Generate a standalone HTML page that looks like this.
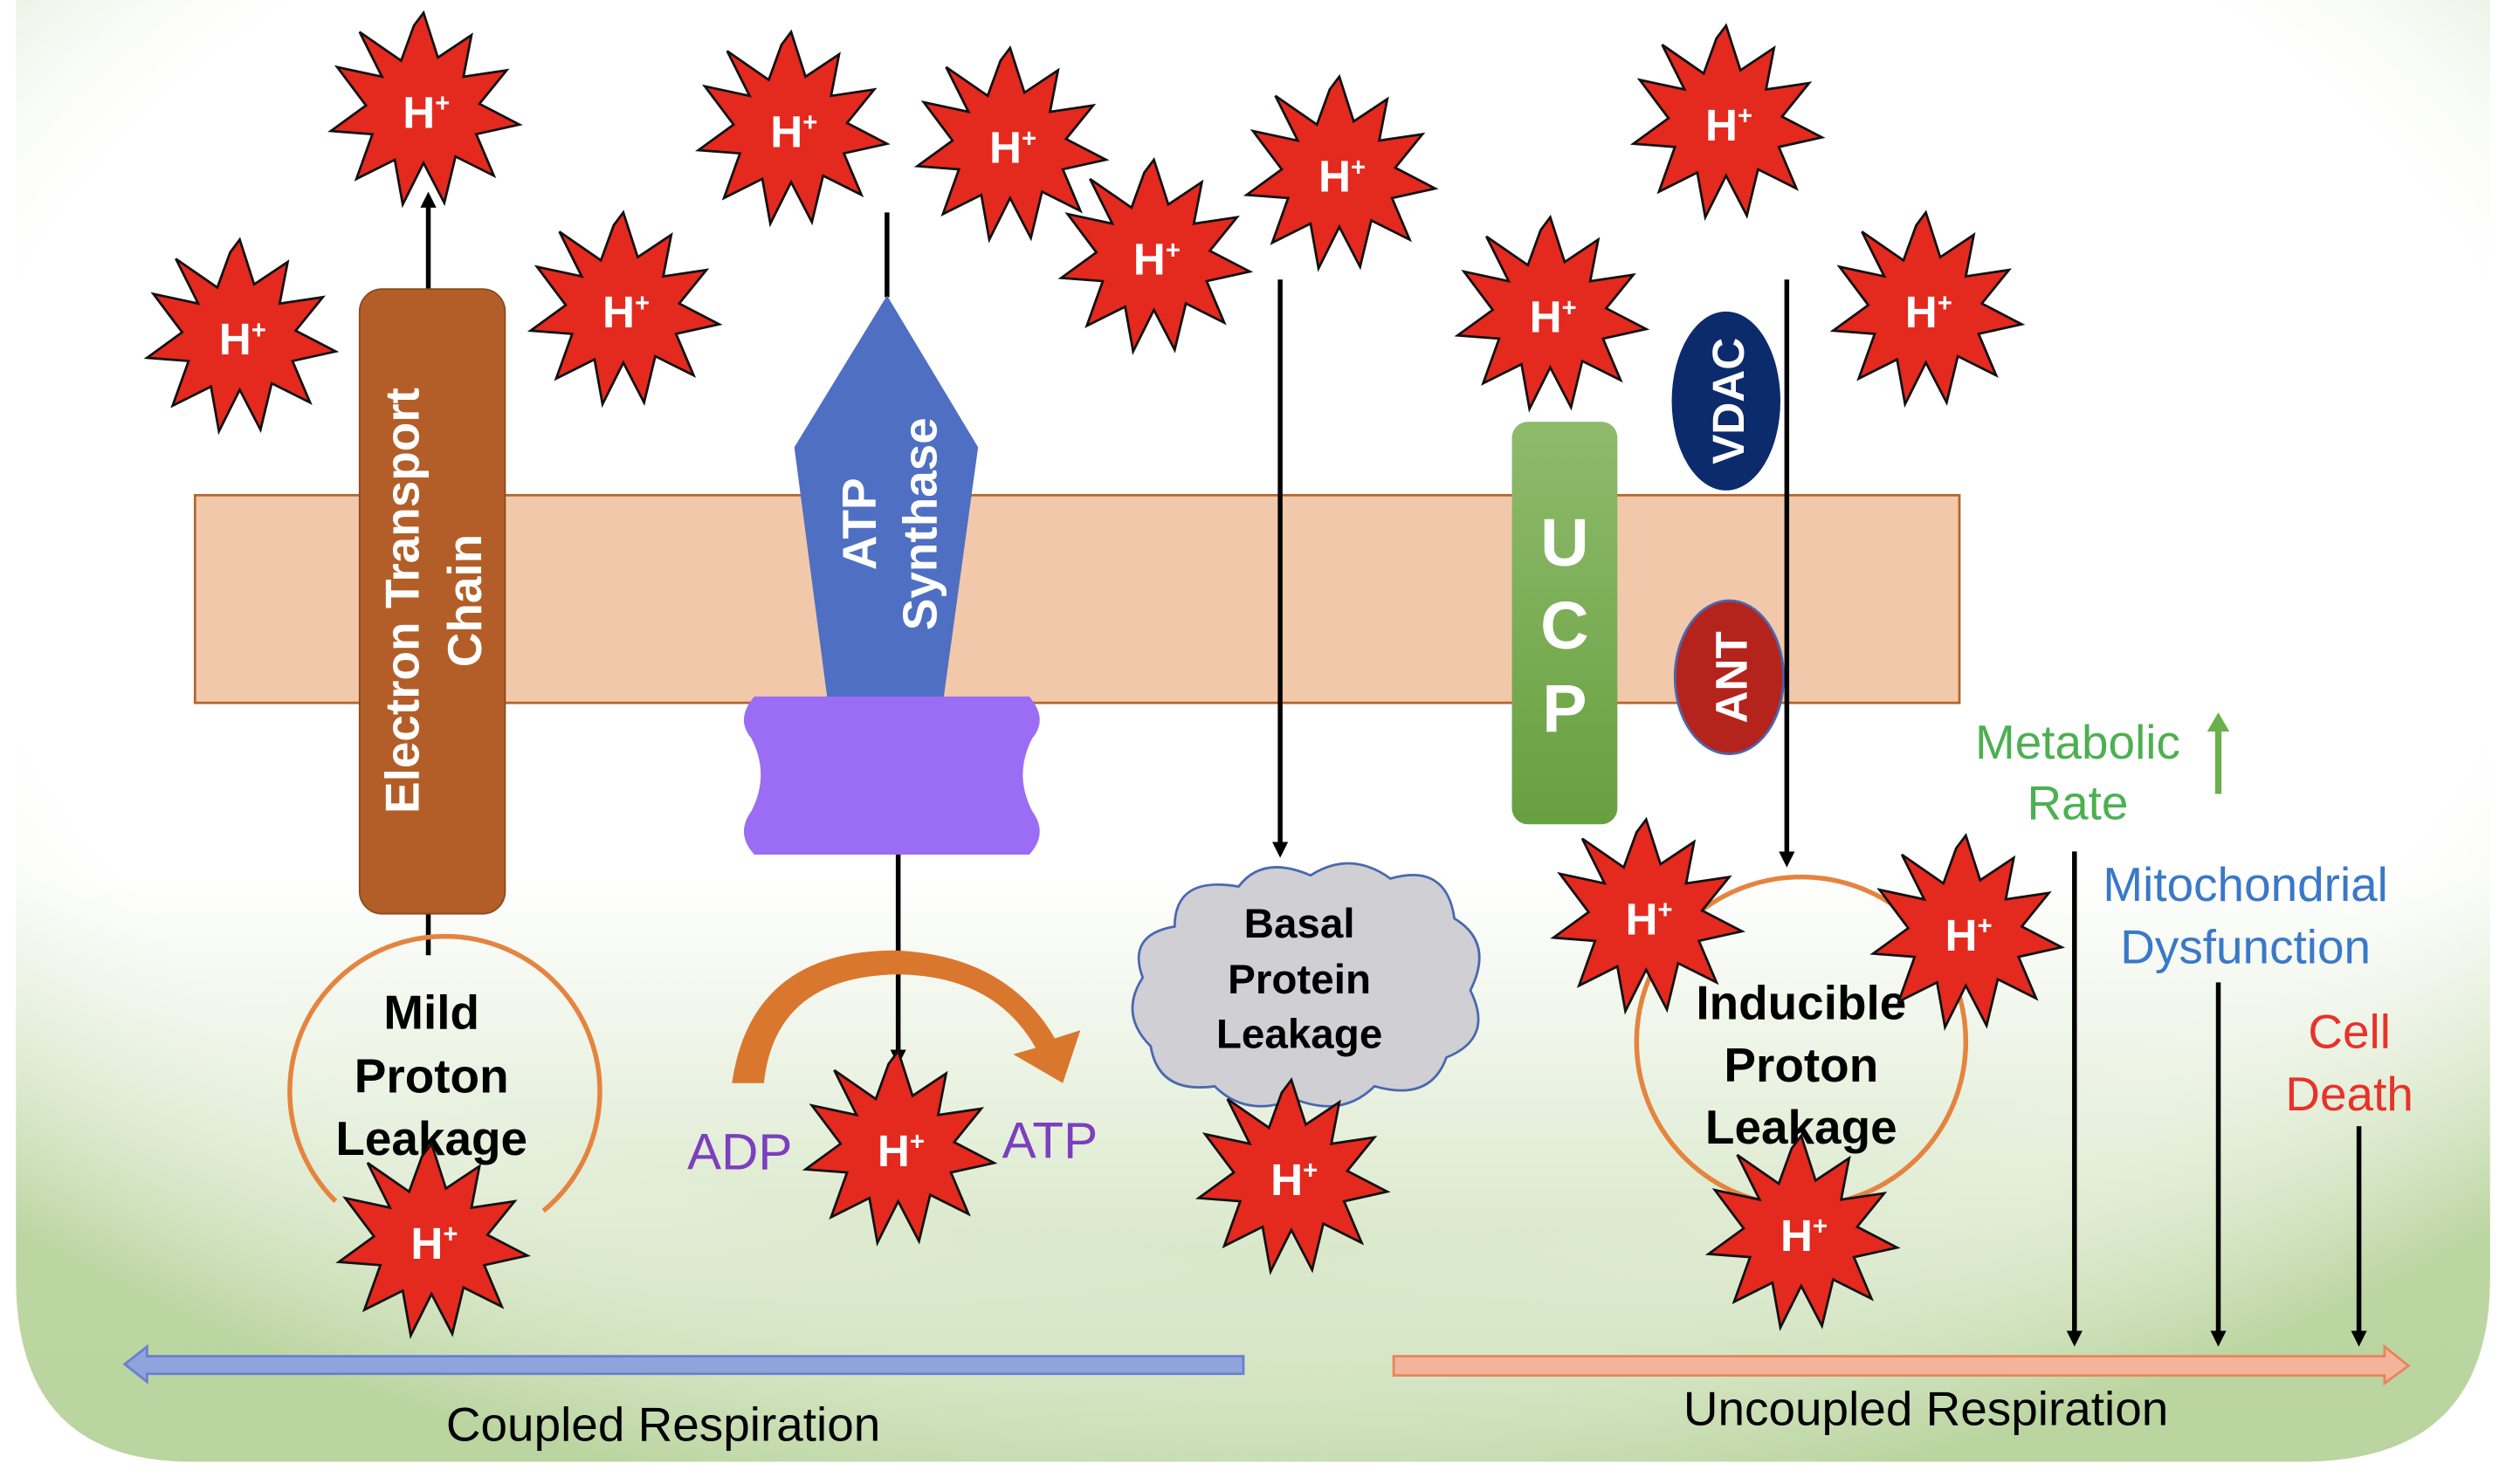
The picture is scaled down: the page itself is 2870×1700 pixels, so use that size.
<!DOCTYPE html>
<html><head><meta charset="utf-8"><style>
html,body{margin:0;padding:0;background:#fff}
svg{display:block}
text{font-family:"Liberation Sans",sans-serif}
</style></head><body>
<svg width="2870" height="1700" viewBox="0 0 1568 929" preserveAspectRatio="none" xmlns="http://www.w3.org/2000/svg">
<defs>
<linearGradient id="bgv" x1="0" y1="0" x2="0" y2="1">
<stop offset="0" stop-color="#fff"/><stop offset="0.6" stop-color="#fff"/><stop offset="1" stop-color="#c4dbac"/>
</linearGradient>
<radialGradient id="bgr" cx="0.5" cy="0.35" r="0.7">
<stop offset="0.72" stop-color="#fff" stop-opacity="0"/><stop offset="1" stop-color="#b9d49e" stop-opacity="0.9"/>
</radialGradient>
<linearGradient id="ucp" x1="0" y1="0" x2="0" y2="1"><stop offset="0" stop-color="#8fbb6c"/><stop offset="1" stop-color="#67a040"/></linearGradient>
<path id="star" d="M0,-62 L9,-34 L30,-48 L25,-22 L52,-26 L35,-5 L60,8 L33,14 L44,40 L20,28 L13,57 L0,32 L-13,58 L-18,30 L-42,42 L-32,14 L-58,12 L-36,-4 L-54,-28 L-26,-22 L-40,-50 L-14,-32 L-6,-54 Z" fill="#e4291f" stroke="#111" stroke-width="1.5"/>
<marker id="ah" markerWidth="10" markerHeight="10" refX="5" refY="5" orient="auto" markerUnits="userSpaceOnUse" viewBox="0 0 10 10"><path d="M0,0 L10,5 L0,10 Z" fill="#000"/></marker>
<marker id="ahg" markerWidth="12" markerHeight="14" refX="6" refY="7" orient="auto" markerUnits="userSpaceOnUse" viewBox="0 0 12 14"><path d="M0,0 L12,7 L0,14 Z" fill="#6ab04c"/></marker>
</defs>
<path d="M10,0 H1558 V800 Q1558,915 1440,915 H120 Q10,915 10,800 Z" fill="url(#bgv)"/>
<path d="M10,0 H1558 V800 Q1558,915 1440,915 H120 Q10,915 10,800 Z" fill="url(#bgr)"/>
<rect x="122" y="310" width="1104" height="130" fill="#f1c9aa" stroke="#b5652d" stroke-width="1.5"/>
<line x1="268" y1="181" x2="268" y2="125" stroke="#000" stroke-width="3" marker-end="url(#ah)"/>
<line x1="268" y1="572" x2="268" y2="598" stroke="#000" stroke-width="3"/>
<rect x="225" y="181" width="91" height="391" rx="14" fill="#b35e28" stroke="#8a4a1e"/>
<text transform="translate(262,376) rotate(-90)" text-anchor="middle" fill="#fff" font-weight="bold" font-size="30">Electron Transport</text>
<text transform="translate(301,376) rotate(-90)" text-anchor="middle" fill="#fff" font-weight="bold" font-size="30">Chain</text>
<path d="M210,752 A97,97 0 1 1 340,758" fill="none" stroke="#e5843f" stroke-width="3"/>
<g font-weight="bold" font-size="30" text-anchor="middle" fill="#000">
<text x="270" y="644">Mild</text><text x="270" y="684">Proton</text><text x="270" y="723">Leakage</text>
</g>
<line x1="555" y1="133" x2="555" y2="186" stroke="#000" stroke-width="3"/>
<path d="M555,185 L612,280 L590,440 L518,440 L497,280 Z" fill="#4f6fc2"/>
<text transform="translate(548,328) rotate(-90)" text-anchor="middle" fill="#fff" font-weight="bold" font-size="30">ATP</text>
<text transform="translate(586,328) rotate(-90)" text-anchor="middle" fill="#fff" font-weight="bold" font-size="30">Synthase</text>
<path d="M472,436 H644 Q656,450 646,462 Q634,485 646,508 Q656,522 644,535 H472 Q460,522 470,508 Q482,485 470,462 Q460,450 472,436 Z" fill="#9b6cf4"/>
<line x1="562" y1="535" x2="562" y2="662" stroke="#000" stroke-width="3" marker-end="url(#ah)"/>
<path d="M458,678 Q470,595 560,595 Q630,598 660,650 L676,645 L665,678 L634,660 L648,656 Q622,610 560,610 Q485,612 478,678 Z" fill="#d9772f"/>
<text x="430" y="732" fill="#7b3fbf" font-size="32">ADP</text>
<text x="627" y="725" fill="#7b3fbf" font-size="32">ATP</text>
<line x1="801" y1="175" x2="801" y2="532" stroke="#000" stroke-width="3" marker-end="url(#ah)"/>
<path d="M735,580 Q735,548 775,555 Q790,535 820,548 Q845,532 870,550 Q905,540 910,575 Q935,590 920,620 Q935,650 905,662 Q895,690 860,680 Q840,700 810,688 Q780,700 760,680 Q725,685 720,655 Q700,635 715,612 Q705,585 735,580 Z" fill="#cfcfd4" stroke="#4a67b0" stroke-width="1.5"/>
<g font-weight="bold" font-size="26" text-anchor="middle" fill="#000">
<text x="813" y="587">Basal</text><text x="813" y="622">Protein</text><text x="813" y="656">Leakage</text>
</g>
<rect x="946" y="264" width="66" height="252" rx="10" fill="url(#ucp)"/>
<g font-weight="bold" font-size="42" text-anchor="middle" fill="#fff">
<text x="979" y="354">U</text><text x="979" y="406">C</text><text x="979" y="458">P</text>
</g>
<ellipse cx="1080" cy="251" rx="34" ry="56" fill="#0c2b6c"/>
<text transform="translate(1091,251) rotate(-90)" text-anchor="middle" fill="#fff" font-weight="bold" font-size="28">VDAC</text>
<ellipse cx="1082" cy="424" rx="34" ry="48" fill="#b5231d" stroke="#4a67b0" stroke-width="1.5"/>
<text transform="translate(1093,424) rotate(-90)" text-anchor="middle" fill="#fff" font-weight="bold" font-size="28">ANT</text>
<line x1="1118" y1="175" x2="1118" y2="538" stroke="#000" stroke-width="3" marker-end="url(#ah)"/>
<circle cx="1127" cy="652" r="103" fill="none" stroke="#e5843f" stroke-width="3"/>
<g font-weight="bold" font-size="30" text-anchor="middle" fill="#000">
<text x="1127" y="638">Inducible</text><text x="1127" y="677">Proton</text><text x="1127" y="716">Leakage</text>
</g>
<g>
<use href="#star" x="265" y="70"/><use href="#star" x="150" y="212"/><use href="#star" x="390" y="195"/>
<use href="#star" x="495" y="82"/><use href="#star" x="632" y="92"/><use href="#star" x="722" y="162"/>
<use href="#star" x="838" y="110"/><use href="#star" x="970" y="198"/><use href="#star" x="1080" y="78"/>
<use href="#star" x="1205" y="195"/><use href="#star" x="1030" y="575"/><use href="#star" x="1230" y="585"/>
<use href="#star" x="1127" y="773"/><use href="#star" x="270" y="778"/><use href="#star" x="562" y="720"/>
<use href="#star" x="808" y="738"/>
</g>
<g fill="#fff" font-weight="bold" font-size="28">
<text x="252" y="80">H<tspan font-size="16" dy="-10">+</tspan></text>
<text x="137" y="222">H<tspan font-size="16" dy="-10">+</tspan></text>
<text x="377" y="205">H<tspan font-size="16" dy="-10">+</tspan></text>
<text x="482" y="92">H<tspan font-size="16" dy="-10">+</tspan></text>
<text x="619" y="102">H<tspan font-size="16" dy="-10">+</tspan></text>
<text x="709" y="172">H<tspan font-size="16" dy="-10">+</tspan></text>
<text x="825" y="120">H<tspan font-size="16" dy="-10">+</tspan></text>
<text x="957" y="208">H<tspan font-size="16" dy="-10">+</tspan></text>
<text x="1067" y="88">H<tspan font-size="16" dy="-10">+</tspan></text>
<text x="1192" y="205">H<tspan font-size="16" dy="-10">+</tspan></text>
<text x="1017" y="585">H<tspan font-size="16" dy="-10">+</tspan></text>
<text x="1217" y="595">H<tspan font-size="16" dy="-10">+</tspan></text>
<text x="1114" y="783">H<tspan font-size="16" dy="-10">+</tspan></text>
<text x="257" y="788">H<tspan font-size="16" dy="-10">+</tspan></text>
<text x="549" y="730">H<tspan font-size="16" dy="-10">+</tspan></text>
<text x="795" y="748">H<tspan font-size="16" dy="-10">+</tspan></text>
</g>
<g font-size="30" text-anchor="middle">
<text x="1300" y="475" fill="#4cb050">Metabolic</text><text x="1300" y="513" fill="#4cb050">Rate</text>
<text x="1405" y="564" fill="#3a78c8">Mitochondrial</text><text x="1405" y="603" fill="#3a78c8">Dysfunction</text>
<text x="1470" y="656" fill="#e8322a">Cell</text><text x="1470" y="695" fill="#e8322a">Death</text>
</g>
<line x1="1388" y1="497" x2="1388" y2="452" stroke="#6ab04c" stroke-width="4" marker-end="url(#ahg)"/>
<line x1="1298" y1="533" x2="1298" y2="838" stroke="#000" stroke-width="3" marker-end="url(#ah)"/>
<line x1="1388" y1="615" x2="1388" y2="838" stroke="#000" stroke-width="3" marker-end="url(#ah)"/>
<line x1="1476" y1="705" x2="1476" y2="838" stroke="#000" stroke-width="3" marker-end="url(#ah)"/>
<path d="M778,849 H92 V843 L78,854 L92,865 V860 H778 Z" fill="#8fa3dd" stroke="#6a7fcf" stroke-width="1.5"/>
<path d="M872,849 H1492 V843 L1507,855 L1492,866 V861 H872 Z" fill="#f2b49a" stroke="#e8845a" stroke-width="1.5"/>
<text x="415" y="902" font-size="30" text-anchor="middle" fill="#000">Coupled Respiration</text>
<text x="1205" y="892" font-size="30" text-anchor="middle" fill="#000">Uncoupled Respiration</text>
</svg>
</body></html>
